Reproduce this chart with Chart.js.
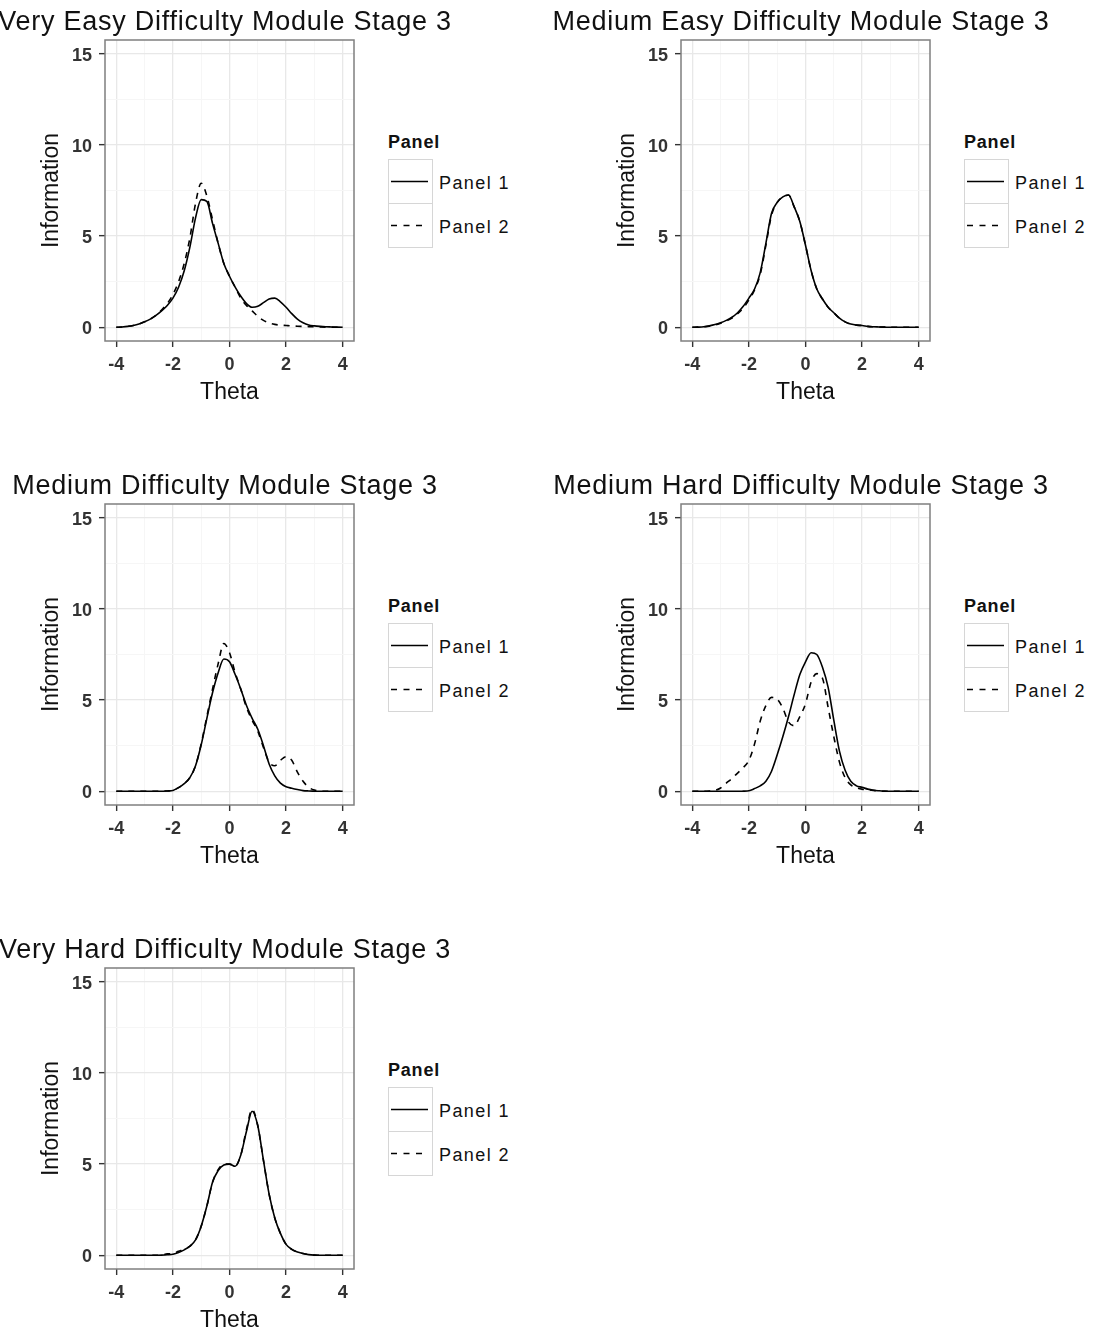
<!DOCTYPE html>
<html>
<head>
<meta charset="utf-8">
<title>Module information curves</title>
<script src="https://cdn.jsdelivr.net/npm/chart.js@4.4.1/dist/chart.umd.min.js"></script>
<style>
  html, body { margin: 0; padding: 0; background: #fff; }
  body {
    width: 1094px; height: 1333px; position: relative; overflow: hidden;
    font-family: "Liberation Sans", Arial, sans-serif; color: #111;
  }
  .cell { position: absolute; width: 546px; height: 464px; }
  .cell canvas { position: absolute; left: 0; top: 0; }
  .title {
    position: absolute; left: -75px; top: 8px; width: 600px; text-align: center;
    font-size: 27px; line-height: 27px; letter-spacing: 0.75px; white-space: nowrap;
  }
  .lg-title {
    position: absolute; left: 388px; top: 133px; font-size: 18px; line-height: 18px;
    font-weight: bold; letter-spacing: 0.8px; white-space: nowrap;
  }
  .lg-key {
    position: absolute; left: 388px; width: 45px; height: 45px; box-sizing: border-box;
    border: 1.5px solid #d6d6d6; background: #fff;
  }
  .lg-lines { position: absolute; left: 388px; top: 159px; }
  .lg-label {
    position: absolute; left: 439px; font-size: 18px; line-height: 44px;
    letter-spacing: 1.4px; white-space: nowrap;
  }
</style>
</head>
<body>
<script>
// theta grid shared by every curve
const theta = [-4, -3.8, -3.6, -3.4, -3.2, -3, -2.8, -2.6, -2.4, -2.2,
  -2, -1.8, -1.6, -1.4, -1.2, -1, -0.8, -0.6, -0.4, -0.2,
  0, 0.2, 0.4, 0.6, 0.8, 1, 1.2, 1.4, 1.6, 1.8,
  2, 2.2, 2.4, 2.6, 2.8, 3, 3.2, 3.4, 3.6, 3.8, 4];

const titles = [
  'Very Easy Difficulty Module Stage 3',
  'Medium Easy Difficulty Module Stage 3',
  'Medium Difficulty Module Stage 3',
  'Medium Hard Difficulty Module Stage 3',
  'Very Hard Difficulty Module Stage 3'
];
const legendTitle = 'Panel';
const seriesNames = ['Panel 1', 'Panel 2'];
const xTitle = 'Theta';
const yTitle = 'Information';

const xTicks = [-4, -3, -2, -1, 0, 1, 2, 3, 4];
const xLabels = [-4, -2, 0, 2, 4];
const yTicks = [0, 2.5, 5, 7.5, 10, 12.5, 15];
const yLabels = [0, 5, 10, 15];

// information values, one per theta
const veryEasy1 = [0, 0.02, 0.05, 0.1, 0.18, 0.3, 0.45, 0.65, 0.9, 1.2,
  1.6, 2.2, 3.1, 4.4, 6.0, 7.0, 6.9, 5.7, 4.6, 3.5,
  2.8, 2.2, 1.7, 1.3, 1.1, 1.15, 1.35, 1.55, 1.6, 1.4,
  1.1, 0.75, 0.45, 0.25, 0.13, 0.08, 0.05, 0.03, 0.02, 0.01, 0];
const veryEasy2 = [0, 0.02, 0.05, 0.1, 0.18, 0.3, 0.45, 0.65, 0.95, 1.3,
  1.8, 2.5, 3.5, 4.9, 6.8, 7.9, 7.2, 5.9, 4.6, 3.5,
  2.8, 2.2, 1.6, 1.2, 0.9, 0.6, 0.38, 0.24, 0.16, 0.12,
  0.1, 0.08, 0.06, 0.05, 0.04, 0.03, 0.02, 0.01, 0.01, 0, 0];
const mediumEasy1 = [0, 0.01, 0.03, 0.08, 0.15, 0.25, 0.38, 0.55, 0.8, 1.15,
  1.6, 2.1, 3.0, 4.6, 6.25, 6.85, 7.15, 7.25, 6.6, 5.8,
  4.5, 3.1, 2.1, 1.55, 1.1, 0.8, 0.5, 0.3, 0.18, 0.12,
  0.1, 0.05, 0.03, 0.02, 0.01, 0, 0, 0, 0, 0, 0];
const mediumEasy2 = [0, 0.01, 0.03, 0.06, 0.13, 0.22, 0.35, 0.5, 0.75, 1.05,
  1.5, 2.05, 2.9, 4.5, 6.15, 6.85, 7.15, 7.25, 6.6, 5.8,
  4.5, 3.1, 2.1, 1.55, 1.1, 0.8, 0.5, 0.3, 0.18, 0.12,
  0.1, 0.05, 0.03, 0.02, 0.01, 0, 0, 0, 0, 0, 0];
const medium1 = [0, 0, 0, 0, 0, 0, 0, 0, 0, 0.02,
  0.05, 0.2, 0.42, 0.75, 1.4, 2.55, 4.0, 5.4, 6.5, 7.25,
  7.1, 6.4, 5.6, 4.7, 4.0, 3.4, 2.5, 1.5, 0.85, 0.45,
  0.25, 0.17, 0.1, 0.04, 0.02, 0.01, 0, 0, 0, 0, 0];
const medium2 = [0, 0, 0, 0, 0, 0, 0, 0, 0, 0.02,
  0.05, 0.2, 0.42, 0.75, 1.4, 2.6, 4.1, 5.6, 7.0, 8.1,
  7.6, 6.5, 5.6, 4.6, 3.9, 3.3, 2.4, 1.6, 1.4, 1.7,
  1.9, 1.7, 1.05, 0.55, 0.22, 0.07, 0.02, 0, 0, 0, 0];
const mediumHard1 = [0, 0, 0, 0, 0, 0, 0, 0, 0, 0.01,
  0.03, 0.15, 0.3, 0.55, 1.1, 2.0, 3.0, 4.1, 5.3, 6.4,
  7.1, 7.6, 7.5, 6.8, 5.7, 3.9, 2.2, 1.15, 0.55, 0.3,
  0.22, 0.12, 0.06, 0.03, 0.01, 0, 0, 0, 0, 0, 0];
const mediumHard2 = [0, 0, 0, 0.01, 0.05, 0.18, 0.45, 0.7, 1.0, 1.3,
  1.7, 2.6, 3.85, 4.7, 5.15, 5.05, 4.55, 3.8, 3.6, 4.1,
  4.8, 6.0, 6.45, 6.2, 4.6, 3.0, 1.6, 0.75, 0.35, 0.2,
  0.12, 0.08, 0.05, 0.02, 0, 0, 0, 0, 0, 0, 0];
const veryHard1 = [0, 0, 0, 0, 0, 0, 0, 0, 0.01, 0.03,
  0.06, 0.15, 0.3, 0.5, 0.85, 1.6, 2.7, 4.0, 4.65, 4.95,
  5.0, 4.88, 5.5, 6.8, 7.9, 7.1, 5.2, 3.35, 2.05, 1.2,
  0.6, 0.33, 0.18, 0.1, 0.04, 0.01, 0, 0, 0, 0, 0];
const veryHard2 = [0, 0, 0, 0, 0, 0, 0, 0, 0.02, 0.08,
  0.1, 0.22, 0.32, 0.5, 0.85, 1.6, 2.7, 4.0, 4.7, 5.0,
  5.0, 4.88, 5.5, 6.9, 8.0, 7.1, 5.2, 3.35, 2.05, 1.2,
  0.6, 0.33, 0.18, 0.1, 0.04, 0.01, 0, 0, 0, 0, 0];

const curves = [
  [veryEasy1, veryEasy2],
  [mediumEasy1, mediumEasy2],
  [medium1, medium2],
  [mediumHard1, mediumHard2],
  [veryHard1, veryHard2]
];

// grid placement of the five cells (left, top)
const cellPos = [[0, 0], [576, 0], [0, 464], [576, 464], [0, 928]];

Chart.defaults.font.family = '"Liberation Sans", Arial, sans-serif';

// grey frame round the plotting area, drawn over the curves
const panelBorder = {
  id: 'panelBorder',
  afterDraw(chart) {
    const { ctx, chartArea: a } = chart;
    ctx.save();
    ctx.strokeStyle = '#7f7f7f';
    ctx.lineWidth = 1.5;
    ctx.strokeRect(a.left, a.top, a.right - a.left, a.bottom - a.top);
    ctx.restore();
  }
};

function isMajor(c, labels) {
  return c.tick && labels.includes(c.tick.value);
}

function axisGrid(labels) {
  return {
    color: c => isMajor(c, labels) ? '#e8e8e8' : '#f6f6f6',
    lineWidth: c => isMajor(c, labels) ? 1.3 : 1,
    tickColor: c => isMajor(c, labels) ? '#333' : 'rgba(0,0,0,0)',
    tickLength: 6,
    tickWidth: 1.4
  };
}

function toPoints(values) {
  return theta.map((t, i) => ({ x: t, y: values[i] }));
}

function drawPanel(canvas, p1, p2) {
  return new Chart(canvas, {
    type: 'line',
    data: {
      datasets: [
        { label: seriesNames[0], data: toPoints(p1), borderColor: '#000', borderWidth: 1.6,
          pointRadius: 0, fill: false, cubicInterpolationMode: 'monotone' },
        { label: seriesNames[1], data: toPoints(p2), borderColor: '#000', borderWidth: 1.6,
          borderDash: [6, 6], pointRadius: 0, fill: false, cubicInterpolationMode: 'monotone' }
      ]
    },
    options: {
      responsive: false,
      animation: false,
      events: [],
      layout: { padding: { top: 40, right: 16, bottom: 0, left: 0 } },
      plugins: {
        legend: { display: false },
        tooltip: { enabled: false },
        title: { display: false }
      },
      scales: {
        x: {
          type: 'linear', min: -4.4, max: 4.4,
          afterBuildTicks: s => { s.ticks = xTicks.map(v => ({ value: v })); },
          afterFit: s => { s.height = 65; },
          ticks: {
            autoSkip: false, maxRotation: 0, padding: 7, color: '#333',
            font: { size: 18, weight: 'bold' },
            callback: v => xLabels.includes(v) ? String(v) : ''
          },
          grid: axisGrid(xLabels),
          border: { display: false },
          title: { display: true, text: xTitle, color: '#111', font: { size: 23 },
                   padding: { top: 0, bottom: 0 } }
        },
        y: {
          type: 'linear', min: -0.75, max: 15.75,
          afterBuildTicks: s => { s.ticks = yTicks.map(v => ({ value: v })); },
          afterFit: s => { s.width = 105; },
          ticks: {
            autoSkip: false, padding: 7, color: '#333', labelOffset: 2,
            font: { size: 18, weight: 'bold' },
            callback: v => yLabels.includes(v) ? String(v) : ''
          },
          grid: axisGrid(yLabels),
          border: { display: false },
          title: { display: true, text: yTitle, color: '#111', font: { size: 23 },
                   padding: { top: 38, bottom: 0 } }
        }
      }
    },
    plugins: [panelBorder]
  });
}

function buildLegend(cell) {
  const t = document.createElement('div');
  t.className = 'lg-title';
  t.textContent = legendTitle;
  cell.appendChild(t);

  [159, 203].forEach(top => {
    const k = document.createElement('div');
    k.className = 'lg-key';
    k.style.top = top + 'px';
    cell.appendChild(k);
  });

  const ns = 'http://www.w3.org/2000/svg';
  const svg = document.createElementNS(ns, 'svg');
  svg.setAttribute('class', 'lg-lines');
  svg.setAttribute('width', '46');
  svg.setAttribute('height', '90');
  [[22.5, null], [66.5, '6 6.5']].forEach(([y, dash]) => {
    const ln = document.createElementNS(ns, 'line');
    ln.setAttribute('x1', '3'); ln.setAttribute('x2', '40');
    ln.setAttribute('y1', y); ln.setAttribute('y2', y);
    ln.setAttribute('stroke', '#000');
    ln.setAttribute('stroke-width', '1.6');
    if (dash) ln.setAttribute('stroke-dasharray', dash);
    svg.appendChild(ln);
  });
  cell.appendChild(svg);

  seriesNames.forEach((name, i) => {
    const l = document.createElement('div');
    l.className = 'lg-label';
    l.style.top = (161 + i * 44) + 'px';
    l.textContent = name;
    cell.appendChild(l);
  });
}

titles.forEach((title, i) => {
  const cell = document.createElement('div');
  cell.className = 'cell';
  cell.style.left = cellPos[i][0] + 'px';
  cell.style.top = cellPos[i][1] + 'px';
  document.body.appendChild(cell);

  const canvas = document.createElement('canvas');
  canvas.width = 370;
  canvas.height = 406;
  cell.appendChild(canvas);

  const h = document.createElement('div');
  h.className = 'title';
  h.textContent = title;
  cell.appendChild(h);

  buildLegend(cell);
  drawPanel(canvas, curves[i][0], curves[i][1]);
});
</script>
</body>
</html>
